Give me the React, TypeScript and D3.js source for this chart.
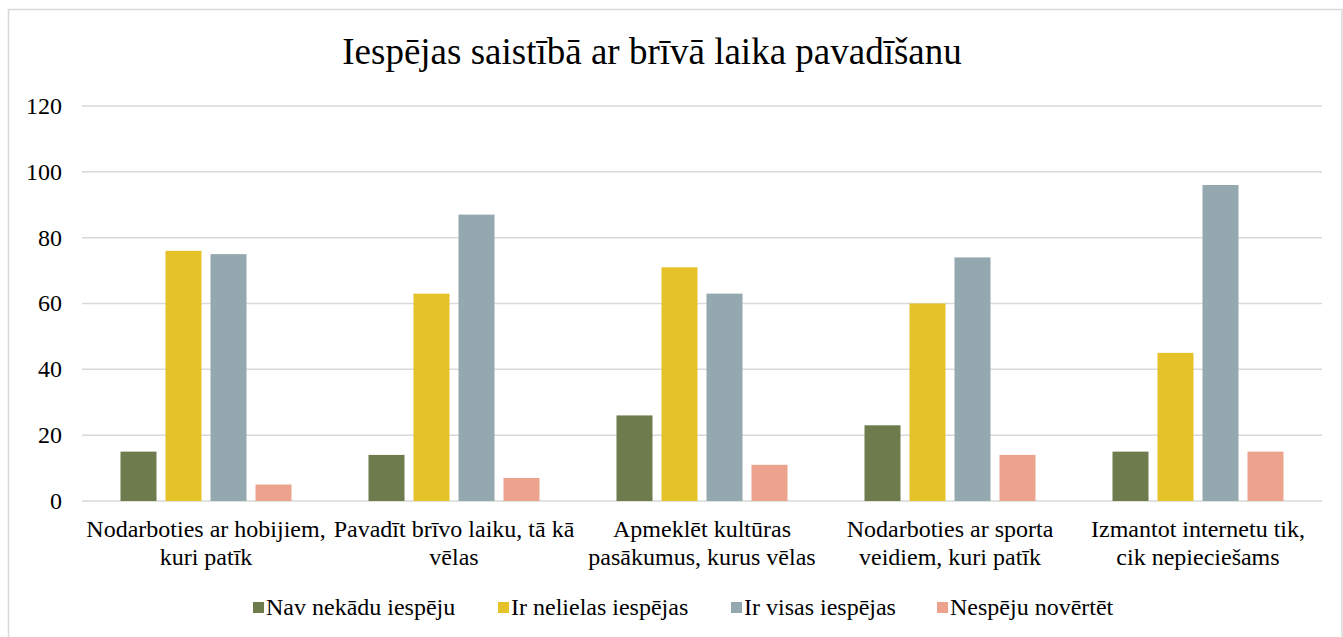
import React, { useRef, useEffect } from 'react';
import * as d3 from 'd3';

const title = 'Iespējas saistībā ar brīvā laika pavadīšanu';
const categories = [
  ['Nodarboties ar hobijiem,', 'kuri patīk'],
  ['Pavadīt brīvo laiku, tā kā', 'vēlas'],
  ['Apmeklēt kultūras', 'pasākumus, kurus vēlas'],
  ['Nodarboties ar sporta', 'veidiem, kuri patīk'],
  ['Izmantot internetu tik,', 'cik nepieciešams'],
];
const seriesNames = ['Nav nekādu iespēju', 'Ir nelielas iespējas', 'Ir visas iespējas', 'Nespēju novērtēt'];
const seriesColors = ['#6e7b4c', '#e6c229', '#94a8b0', '#eda28e'];
const navNekadu = [15, 14, 26, 23, 15];
const irNelielas = [76, 63, 71, 60, 45];
const irVisas = [75, 87, 63, 74, 96];
const nespeju = [5, 7, 11, 14, 15];
const yTicks = [0, 20, 40, 60, 80, 100, 120];

const App = () => {
  const svgRef = useRef<SVGSVGElement>(null);

  useEffect(() => {
    const width = 1343;
    const height = 637;
    const font = "'Times New Roman', 'Liberation Serif', Tinos, serif";
    const values = [navNekadu, irNelielas, irVisas, nespeju];

    const svg = d3.select(svgRef.current);
    svg.selectAll('*').remove();
    svg.attr('width', width).attr('height', height)
      .style('font-family', font);

    // chart frame
    svg.append('rect')
      .attr('x', 8.5).attr('y', 9.5)
      .attr('width', 1333.5).attr('height', 700)
      .attr('fill', '#fff')
      .attr('stroke', '#d9d9d9')
      .attr('stroke-width', 1.5);

    svg.append('text')
      .attr('x', 652).attr('y', 64)
      .attr('text-anchor', 'middle')
      .attr('font-size', 37)
      .attr('fill', '#000')
      .text(title);

    const x0 = d3.scaleBand<number>()
      .domain(d3.range(categories.length))
      .range([82, 1322]);

    const x1 = d3.scaleBand<number>()
      .domain(d3.range(seriesNames.length))
      .range([38.5, x0.bandwidth() - 38.5])
      .paddingInner(0.2);

    const y = d3.scaleLinear().domain([0, 120]).range([501, 106]);

    // gridlines
    svg.append('g').selectAll('line')
      .data(yTicks)
      .enter().append('line')
      .attr('x1', 82).attr('x2', 1322)
      .attr('y1', d => y(d)).attr('y2', d => y(d))
      .attr('stroke', '#d9d9d9')
      .attr('stroke-width', 1.5);

    // y tick labels
    svg.append('g').selectAll('text')
      .data(yTicks)
      .enter().append('text')
      .attr('x', 62)
      .attr('y', d => y(d))
      .attr('dy', '0.33em')
      .attr('text-anchor', 'end')
      .attr('font-size', 24)
      .text(d => d);

    // bars
    values.forEach((vals, s) => {
      svg.append('g').selectAll('rect')
        .data(vals)
        .enter().append('rect')
        .attr('x', (d, i) => x0(i)! + x1(s)!)
        .attr('y', d => y(d))
        .attr('width', x1.bandwidth())
        .attr('height', d => y(0) - y(d))
        .attr('fill', seriesColors[s]);
    });

    // category labels
    const cat = svg.append('g').selectAll('text')
      .data(categories)
      .enter().append('text')
      .attr('x', (d, i) => x0(i)! + x0.bandwidth() / 2)
      .attr('y', 537)
      .attr('text-anchor', 'middle')
      .attr('font-size', 24);
    cat.selectAll('tspan')
      .data(d => d)
      .enter().append('tspan')
      .attr('x', function () { return (this.parentNode as SVGTextElement).getAttribute('x'); })
      .attr('dy', (d, i) => (i === 0 ? 0 : 27.5))
      .text(d => d);

    // legend
    const legendX = [253, 498, 731, 937];
    const legend = svg.append('g').selectAll('g')
      .data(seriesNames)
      .enter().append('g')
      .attr('transform', (d, i) => `translate(${legendX[i]},607)`);
    legend.append('rect')
      .attr('x', 0).attr('y', -5)
      .attr('width', 11).attr('height', 11)
      .attr('fill', (d, i) => seriesColors[i]);
    legend.append('text')
      .attr('x', 13)
      .attr('y', 8)
      .attr('font-size', 24)
      .text(d => d);
  }, []);

  return (
    <svg ref={svgRef} style={{ position: 'absolute', left: 0, top: 0 }}></svg>
  );
};

export default App;
